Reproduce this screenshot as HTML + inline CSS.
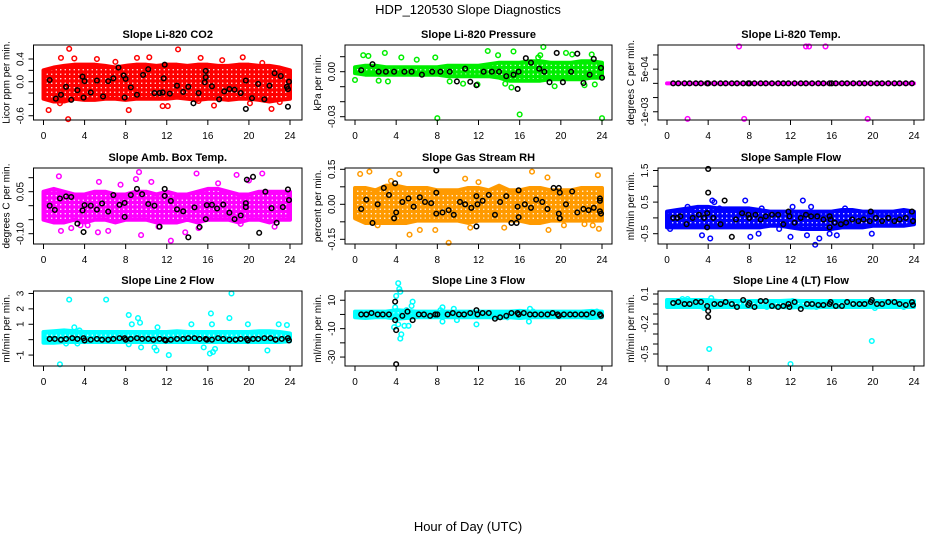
<!DOCTYPE html>
<html><head><meta charset="utf-8"><style>
html,body{margin:0;padding:0;background:#fff;}
svg{display:block;font-family:"Liberation Sans",Arial,sans-serif;}
</style></head><body>
<svg id="chart" width="936" height="540" viewBox="0 0 936 540">
<defs id="defs"></defs>
<text x="468" y="14" text-anchor="middle" font-size="13">HDP_120530  Slope Diagnostics</text>
<text x="468" y="531" text-anchor="middle" font-size="13">Hour of Day (UTC)</text>
</svg>
<script>
// shared band hours
const bandHours = [0,1,2,3,4,5,6,7,8,9,10,11,12,13,14,15,16,17,18,19,20,21,22,23,24];
const xTicks = [0,4,8,12,16,20,24];

// Panel 1: CO2
const co2BandHi = [0.2,0.25,0.28,0.3,0.3,0.3,0.28,0.25,0.28,0.3,0.3,0.28,0.3,0.3,0.28,0.3,0.3,0.28,0.28,0.3,0.3,0.28,0.28,0.25,0.2];
const co2BandLo = [-0.3,-0.35,-0.35,-0.3,-0.32,-0.32,-0.3,-0.3,-0.32,-0.3,-0.3,-0.3,-0.3,-0.28,-0.3,-0.32,-0.3,-0.3,-0.32,-0.3,-0.3,-0.32,-0.35,-0.32,-0.3];
const co2OutX = [2.5,2.4,0.5,13.1,8.3,22.2,11.6,12.1,16.6,1.7,3.0,5.2,9.1,10.3,15.3,19.4,17.4,21.3,1.6,15.1,4.0,7.0,20.1,23.0];
const co2OutY = [0.58,-0.66,-0.5,0.57,-0.5,-0.48,-0.43,-0.43,-0.42,0.42,0.41,0.4,0.42,0.43,0.42,0.43,0.38,0.33,-0.38,-0.34,-0.29,0.35,-0.38,-0.36];
const co2BlkX = [0.6,1.2,1.7,2.2,2.7,3.3,3.8,3.9,4.0,4.6,5.2,5.8,6.3,6.8,7.3,7.8,7.9,8.0,8.5,9.1,9.7,10.2,10.8,11.3,11.6,11.7,11.8,12.3,13.0,13.6,14.1,14.6,15.1,15.7,15.8,15.8,16.4,17.1,17.6,18.1,18.6,19.2,19.7,19.7,20.3,20.9,21.5,22.0,22.5,23.1,23.7,23.8,23.8,23.9];
const co2BlkY = [0.03,-0.3,-0.23,-0.09,-0.32,-0.15,0.09,-0.28,0.01,-0.19,0.02,-0.26,0.01,0.06,0.25,0.11,-0.28,0.05,-0.1,-0.23,0.12,0.22,-0.2,-0.2,-0.19,0.06,0.3,-0.21,-0.07,-0.18,-0.09,-0.38,-0.2,-0.01,0.08,0.19,-0.08,-0.31,-0.17,-0.13,-0.14,-0.2,0.02,-0.48,-0.29,-0.04,-0.31,-0.07,0.15,0.1,-0.09,-0.13,-0.44,0.0];

// Panel 2: Pressure
const prBandHi = [0.003,0.004,0.004,0.003,0.003,0.003,0.003,0.003,0.003,0.004,0.004,0.004,0.004,0.005,0.006,0.006,0.006,0.007,0.007,0.006,0.006,0.006,0.007,0.007,0.006];
const prBandLo = [-0.001,-0.002,-0.002,-0.002,-0.002,-0.002,-0.002,-0.002,-0.002,-0.003,-0.003,-0.003,-0.003,-0.003,-0.004,-0.006,-0.006,-0.006,-0.006,-0.005,-0.005,-0.005,-0.005,-0.004,-0.004];
const prOutX = [0,0.8,1.3,2.9,3.2,4.5,7.8,8,12.9,13.9,15.2,15.4,16.0,18.3,19.4,20.5,21.1,23.0,23.3,24,11.9,9.2,17.8,10.5,14.6,6.0,2.3,22.3,18.0];
const prOutY = [-0.0055,0.011,0.0105,0.0125,-0.0065,0.0095,0.0095,-0.031,0.0138,0.011,-0.0105,0.0135,-0.0285,0.0165,-0.0097,0.0125,0.0115,0.0115,-0.0085,-0.031,-0.0085,-0.0065,0.0095,-0.008,-0.008,0.008,-0.006,-0.009,0.011];
const prBlkX = [0.6,1.7,2.3,3,3.8,4.8,5.5,6.5,7.5,8.3,9.2,9.9,10.7,11.2,11.8,12.5,13.3,14,14.7,15.4,15.8,15.9,16.6,17.1,17.9,18.4,18.9,19.6,20.2,21,21.6,22.2,22.8,23.2,23.9,24];
const prBlkY = [0.001,0.005,0,0,0,0,0,-0.002,0,0,0,-0.0065,0.002,-0.0067,-0.009,0,0,0,-0.003,-0.002,-0.0115,0,0.009,0.006,0.002,0,-0.007,0.0125,-0.007,0,0.012,-0.0075,-0.002,0.0085,0.0025,-0.004];

// Panel 3: Li-820 Temp
const tpBandHi = [0,0,0,0,0,0,0,0,0,0,0,0,0,0,0,0,0,0,0,0,0,0,0,0,0];
const tpBandLo = [0,0,0,0,0,0,0,0,0,0,0,0,0,0,0,0,0,0,0,0,0,0,0,0,0];
const tpOutX = [7,13.5,13.8,15.4,2,7.5,19.5];
const tpOutY = [0.0013,0.0013,0.0013,0.0013,-0.00125,-0.00125,-0.00125];
const tpBlkX = [0.6,1.1,1.7,2.2,2.8,3.3,3.9,4.0,4.6,5.2,5.7,6.3,6.8,7.4,7.9,8.0,8.5,9.1,9.6,10.2,10.8,11.3,11.8,12.4,13.0,13.5,14.1,14.7,15.2,15.8,16.0,16.4,17.0,17.5,18.1,18.7,19.2,19.8,20.4,20.9,21.5,22.1,22.6,23.2,23.8];
const tpBlkY = [0,0,0,0,0,0,0,0,0,0,0,0,0,0,0,0,0,0,0,0,0,0,0,0,0,0,0,0,0,0,0,0,0,0,0,0,0,0,0,0,0,0,0,0,0];

// Panel 4: Amb Box Temp
const abBandHi = [0.05,0.06,0.05,0.04,0.04,0.05,0.05,0.04,0.04,0.05,0.05,0.04,0.05,0.04,0.04,0.05,0.06,0.06,0.05,0.04,0.04,0.05,0.05,0.05,0.05];
const abBandLo = [-0.05,-0.06,-0.06,-0.05,-0.06,-0.05,-0.05,-0.06,-0.05,-0.05,-0.05,-0.06,-0.06,-0.06,-0.05,-0.06,-0.05,-0.05,-0.05,-0.06,-0.05,-0.05,-0.06,-0.05,-0.05];
const abOutX = [1.5,9.3,9.0,14.9,18.8,21.3,5.4,1.7,5.3,9.5,12.4,13.8,15.1,19.2,11.2,2.7,6.3,22.5,4.3,10.5,17.0,20.0,7.5,3.6];
const abOutY = [0.105,0.12,0.095,0.115,0.11,0.115,0.085,-0.09,-0.095,-0.105,-0.125,-0.095,-0.08,-0.065,-0.075,-0.08,-0.09,-0.075,-0.07,0.085,0.08,0.09,0.075,-0.07];
const abBlkX = [0.6,1.1,1.6,2.2,2.7,3.3,3.9,3.8,4.0,4.6,5.2,5.7,6.3,6.8,7.4,7.9,7.9,8.5,9.1,9.6,10.2,10.8,11.3,11.8,11.8,12.4,13.0,13.6,14.1,14.7,15.2,15.8,15.9,16.4,16.9,17.5,18.1,18.6,19.2,19.7,19.7,19.8,20.4,21.0,21.6,22.2,22.7,23.3,23.8,23.9];
const abBlkY = [0.0,-0.015,0.026,0.033,0.031,-0.064,-0.094,-0.017,0.002,0.0,-0.014,0.008,-0.021,0.038,0.003,0.01,-0.04,0.038,0.06,0.041,0.006,0.0,-0.075,0.035,0.06,0.017,-0.013,-0.02,-0.113,-0.006,-0.076,-0.048,0.002,0.003,-0.01,0.004,-0.025,-0.048,-0.035,0.009,-0.005,0.093,0.103,-0.097,0.05,-0.009,-0.061,-0.005,0.058,0.02];

// Panel 5: Gas Stream RH
const rhBandHi = [0.07,0.07,0.06,0.08,0.08,0.07,0.07,0.07,0.06,0.06,0.06,0.07,0.07,0.06,0.08,0.06,0.06,0.07,0.07,0.06,0.06,0.06,0.07,0.07,0.07];
const rhBandLo = [-0.06,-0.08,-0.08,-0.08,-0.08,-0.08,-0.07,-0.07,-0.07,-0.07,-0.07,-0.08,-0.07,-0.07,-0.07,-0.07,-0.07,-0.08,-0.08,-0.07,-0.07,-0.07,-0.07,-0.07,-0.07];
const rhOutX = [0.5,1.4,4.3,10.7,17.2,18.7,23.6,5.3,6.3,7.8,9.1,18.8,23.7,11.2,22.3,23.1,14.5,2.2,3.5,12.0,20.3];
const rhOutY = [0.13,0.14,0.13,0.11,0.14,0.115,0.125,-0.13,-0.11,-0.11,-0.165,-0.11,-0.105,-0.1,-0.085,-0.09,-0.1,-0.09,0.1,0.095,-0.09];
const rhBlkX = [0.6,1.1,1.7,2.2,2.8,3.3,3.8,3.9,4.0,4.6,5.2,5.7,6.3,6.8,7.4,7.9,7.9,7.9,8.5,9.1,9.6,10.2,10.7,11.3,11.8,11.8,11.9,12.4,13.0,13.6,14.1,14.7,15.2,15.7,15.8,15.9,15.9,16.5,17.1,17.6,18.2,18.7,19.3,19.8,19.8,19.9,19.9,20.5,21.1,21.6,22.2,22.7,23.2,23.8,23.8,23.9,23.8];
const rhBlkY = [-0.02,0.02,-0.08,0.0,0.07,0.04,-0.06,0.09,-0.035,0.01,0.025,-0.01,0.03,0.01,0.005,0.05,-0.04,0.145,-0.035,-0.025,-0.045,0.01,0.0,-0.015,0.035,-0.095,0.0,0.015,0.04,-0.045,0.01,0.035,-0.08,-0.08,-0.01,-0.055,0.06,0.0,-0.015,0.02,0.01,-0.02,0.07,-0.04,0.07,0.05,-0.06,0.0,0.055,-0.035,-0.02,-0.025,-0.015,0.015,-0.03,-0.04,0.025];

// Panel 6: Sample Flow
const sfBandHi = [0.2,0.25,0.3,0.35,0.35,0.3,0.3,0.3,0.3,0.25,0.2,0.2,0.2,0.2,0.2,0.2,0.2,0.25,0.25,0.2,0.2,0.2,0.2,0.25,0.2];
const sfBandLo = [-0.3,-0.3,-0.3,-0.3,-0.3,-0.3,-0.3,-0.3,-0.3,-0.3,-0.25,-0.25,-0.3,-0.35,-0.35,-0.35,-0.35,-0.3,-0.3,-0.3,-0.25,-0.25,-0.25,-0.25,-0.2];
const sfOutX = [2.0,3.4,4.2,4.4,4.6,7.6,8.1,8.9,12.0,12.2,13.2,13.6,14.4,14.8,15.8,16.5,19.9,14.0,9.2,0.3,5.1,10.9,17.3];
const sfOutY = [0.35,-0.55,-0.65,0.55,0.5,0.55,-0.6,-0.5,-0.6,0.35,0.55,-0.55,-0.85,-0.65,-0.5,-0.55,-0.5,0.35,0.3,-0.35,0.3,-0.35,0.3];
const sfBlkX = [0.6,1.0,1.3,1.9,2.5,3.1,3.6,3.9,3.9,4.0,4.0,4.5,5.2,5.6,6.3,6.7,7.3,7.9,8.0,8.6,9.1,9.6,10.2,10.8,11.3,11.8,11.9,12.4,13.0,13.5,14.0,14.6,15.2,15.8,15.8,15.9,16.3,16.9,17.4,18.0,18.6,19.1,19.7,19.8,20.3,20.9,21.5,22.1,22.6,23.2,23.8,23.9];
const sfBlkY = [0.0,0.0,0.05,-0.2,0.0,0.1,0.0,0.15,-0.3,1.55,0.8,0.0,-0.2,0.55,-0.6,-0.05,0.15,0.1,0.0,0.1,-0.05,0.05,0.1,0.1,-0.2,0.2,0.05,-0.15,0.0,0.1,0.05,0.05,-0.05,-0.3,0.05,-0.05,-0.15,-0.2,-0.15,-0.05,-0.1,-0.05,-0.1,0.2,0.0,-0.1,0.0,-0.1,-0.05,0.0,0.2,-0.1];

// Panel 7: Line 2 Flow
const l2BandHi = [0.5,0.55,0.6,0.55,0.5,0.5,0.5,0.5,0.5,0.5,0.5,0.5,0.5,0.55,0.5,0.5,0.5,0.5,0.5,0.5,0.5,0.55,0.55,0.5,0.4];
const l2BandLo = [-0.2,-0.2,-0.15,-0.15,-0.15,-0.15,-0.15,-0.15,-0.15,-0.15,-0.15,-0.15,-0.15,-0.15,-0.15,-0.15,-0.15,-0.15,-0.15,-0.15,-0.15,-0.15,-0.15,-0.15,-0.1];
const l2OutX = [1.6,2.5,3.0,3.5,6.1,8.3,8.6,9.2,9.4,8.3,9.5,10.8,11.0,11.1,12.2,14.4,15.6,16.3,16.4,16.7,16.2,16.5,18.1,18.3,19.9,21.8,22.9,23.7,1.8,2.2,3.3];
const l2OutY = [-1.6,2.6,0.8,0.6,2.6,1.6,1.0,1.4,1.1,-0.3,-0.5,-0.5,-0.7,0.8,-1.0,1.0,-0.5,1.7,1.0,-0.6,-0.9,-0.8,1.4,3.0,1.0,-0.7,1.0,0.95,0.5,-0.25,-0.25];
const l2BlkX = [0.6,1.1,1.7,2.2,2.8,3.3,3.9,4.0,4.6,5.2,5.7,6.3,6.8,7.4,7.9,8.0,8.5,9.1,9.6,10.2,10.7,11.3,11.8,11.9,12.4,13.0,13.6,14.1,14.7,15.2,15.8,15.9,16.4,17.0,17.5,18.1,18.7,19.2,19.8,19.9,20.4,20.9,21.5,22.1,22.6,23.2,23.8,23.9];
const l2BlkY = [0.05,0.05,0.0,0.05,0.1,0.05,0.1,-0.05,0.0,0.05,0.0,0.0,0.05,0.1,0.1,0.0,0.05,0.1,0.05,0.05,0.0,0.05,0.0,-0.05,0.0,0.05,0.05,0.1,0.1,0.05,0.05,0.0,0.0,0.1,0.05,0.0,0.0,0.05,0.05,-0.05,0.05,0.05,0.1,0.1,0.0,0.05,0.1,-0.05];

// Panel 8: Line 3 Flow
const l3BandHi = [2,2,2,2,3,2.5,2,2,2,2,2,2,2,2,2,2,2.5,2,2,2,2,2,2,2.5,2];
const l3BandLo = [-2,-2.5,-2,-2,-3,-2.5,-2,-2,-2,-2,-2,-2,-2,-2,-2.5,-2,-2.5,-2,-2,-2,-2,-2,-2,-2.5,-2];
const l3OutX = [4.0,4.2,4.3,4.4,3.9,3.8,4.2,4.4,4.5,4.8,5.2,5.0,5.5,5.6,6.5,8.3,8.5,9.6,8.5,9.9,11.8,14.8,17.0,16.9,17.3,23.5];
const l3OutY = [13,22,18,16,5,-9,-7,-17,-14,-8,-8,3,6,9,1,3,5,4,-5,-4,-7,-2,4,-5,2,2];
const l3BlkX = [0.6,1.1,1.6,2.2,2.7,3.3,3.9,3.9,4.0,4.0,4.6,5.1,5.6,6.2,6.7,7.3,7.8,8.0,9.0,9.5,10.1,10.6,11.2,11.8,11.9,12.4,13.0,13.6,14.1,14.7,15.2,15.8,15.9,16.4,17.0,17.5,18.1,18.7,19.2,19.7,19.8,20.3,20.9,21.4,22.0,22.5,23.1,23.8,23.9];
const l3BlkY = [0,0,1,0,0,0,9,-4,-11,-35,-1,2,-4,0,0,-1,0,0,0,1,0,0,1,3,0,1,1,-3,-2,-1,1,1,0,1,0,0,0,0,1,0,-1,0,0,0,0,0,1,0,-1];

// Panel 9: Line 4 (LT) Flow
const l4BandHi = [0.04,0.04,0.04,0.04,0.04,0.03,0.03,0.03,0.03,0.03,0.03,0.03,0.035,0.03,0.03,0.03,0.03,0.03,0.03,0.03,0.03,0.03,0.03,0.03,0.03];
const l4BandLo = [-0.03,-0.03,-0.03,-0.03,-0.035,-0.03,-0.03,-0.03,-0.03,-0.03,-0.03,-0.03,-0.035,-0.03,-0.035,-0.03,-0.03,-0.03,-0.03,-0.03,-0.03,-0.03,-0.03,-0.03,-0.03];
const l4OutX = [4.1,12.0,19.9,4.3,1.5,2.0,12.2,9.7,14.5,20.2,3.6,23.0];
const l4OutY = [-0.45,-0.6,-0.37,0.06,0.05,0.05,0.03,-0.03,-0.03,-0.04,-0.04,-0.03];
const l4BlkX = [0.6,1.1,1.7,2.2,2.8,3.3,3.9,4.0,4.0,4.6,5.2,5.7,6.3,6.8,7.4,7.9,8.0,8.5,9.1,9.6,10.2,10.8,11.3,11.8,11.9,12.4,13.0,13.6,14.1,14.7,15.2,15.8,15.9,16.4,17.0,17.5,18.1,18.7,19.2,19.8,19.9,20.4,20.9,21.5,22.1,22.6,23.2,23.8,23.9];
const l4BlkY = [0.01,0.02,0.0,0.0,0.02,0.02,-0.02,-0.07,-0.13,0.0,0.0,0.02,0.0,-0.03,0.04,-0.01,0.01,-0.03,0.03,0.03,-0.02,-0.03,-0.02,0.0,-0.03,0.02,-0.05,0.0,0.0,-0.01,-0.01,0.0,0.02,-0.02,-0.02,0.02,0.0,0.0,0.0,0.02,0.04,0.0,0.0,0.02,0.02,0.0,-0.01,0.02,-0.01];

// y tick values and labels per panel
const co2Ticks = [-0.6,-0.4,-0.2,0,0.2,0.4];
const co2TickLabels = ["-0.6","","","0.0","","0.4"];
const prTicks = [-0.03,-0.02,-0.01,0,0.01];
const prTickLabels = ["-0.03","","","0.00",""];
const tpTicks = [-0.001,-0.0005,0,0.0005,0.001];
const tpTickLabels = ["-1e-03","","","5e-04",""];
const abTicks = [-0.1,-0.05,0,0.05,0.1];
const abTickLabels = ["-0.10","","","0.05",""];
const rhTicks = [-0.15,-0.075,0,0.075,0.15];
const rhTickLabels = ["-0.15","","0.00","","0.15"];
const sfTicks = [-0.5,0,0.5,1,1.5];
const sfTickLabels = ["-0.5","","0.5","","1.5"];
const l2Ticks = [-1,0,1,2,3];
const l2TickLabels = ["-1","","1","2","3"];
const l3Ticks = [-30,-20,-10,0,10];
const l3TickLabels = ["-30","","-10","","10"];
const l4Ticks = [-0.5,-0.4,-0.3,-0.2,-0.1,0,0.1];
const l4TickLabels = ["-0.5","","","-0.2","","","0.1"];

const NS = "http://www.w3.org/2000/svg";
const svg = document.getElementById('chart');
const defs = document.getElementById('defs');
function mk(tag, attrs, parent){
  const e = document.createElementNS(NS, tag);
  for (const k in attrs) e.setAttribute(k, attrs[k]);
  (parent||svg).appendChild(e);
  return e;
}
const cols = [{l:33.5,r:302,x0:43.5,x1:290},{l:345,r:612,x0:355,x1:602},{l:658,r:924,x0:667,x1:914}];
const rows = [{t:45,b:120},{t:168,b:244},{t:291,b:366}];
let pid = 0;

function panel(cfg){
  const c = cols[cfg.col], r = rows[cfg.row];
  const g = mk('g', {});
  
  
  const xs = h => c.x0 + (c.x1 - c.x0) * h / 24;
  const ys = v => r.b - (v - cfg.yMin) / (cfg.yMax - cfg.yMin) * (r.b - r.t);
  // texture pattern of rings for dense cloud
  pid++;
  const pat = mk('pattern', {id:'p'+pid, patternUnits:'userSpaceOnUse', width:4.5, height:4.5}, defs);
  mk('rect', {x:0,y:0,width:4.5,height:4.5,fill:cfg.color}, pat);
  mk('circle', {cx:2.25, cy:2.25, r:0.7, fill:'#fff'}, pat);
  let pts = [];
  for (let i=0;i<bandHours.length;i++) pts.push(xs(bandHours[i])+','+ys(cfg.hi[i]));
  for (let i=bandHours.length-1;i>=0;i--) pts.push(xs(bandHours[i])+','+ys(cfg.lo[i]));
  const band = mk('polygon', {points: pts.join(' '), fill: 'url(#p'+pid+')', stroke: cfg.color, 'stroke-width': 4, 'stroke-linejoin':'round'}, g);
  
  
  // outliers
  for (let i=0;i<cfg.ox.length;i++){
    const p = mk('circle', {cx: xs(cfg.ox[i]), cy: ys(cfg.oy[i]), r: 2.3, fill:'none', stroke: cfg.color, 'stroke-width':1.5}, g);
    
    
  }
  // black points
  for (let i=0;i<cfg.bx.length;i++){
    const p = mk('circle', {cx: xs(cfg.bx[i]), cy: ys(cfg.by[i]), r: 2.3, fill:'none', stroke: '#000', 'stroke-width':1.5}, g);
    
    
  }
  // box
  const box = mk('rect', {x:c.l, y:r.t, width:c.r-c.l, height:r.b-r.t, fill:'none', stroke:'#000', 'stroke-width':1}, g);
  
  
  // x ticks
  for (const h of xTicks){
    const x = xs(h);
    mk('line', {x1:x, x2:x, y1:r.b, y2:r.b+5, stroke:'#000'}, g);
    const t = mk('text', {x:x, y:r.b+19, 'text-anchor':'middle', 'font-size':10}, g);
    t.textContent = h;
    
    
  }
  // y ticks
  for (let i=0;i<cfg.ticks.length;i++){
    const y = ys(cfg.ticks[i]);
    mk('line', {x1:c.l-5, x2:c.l, y1:y, y2:y, stroke:'#000'}, g);
    if (cfg.tl[i]){
      const lx = c.l - 10;
      const t = mk('text', {x:lx, y:y, 'text-anchor':'middle', 'font-size':10, transform:'rotate(-90 '+lx+' '+y+')'}, g);
      t.textContent = cfg.tl[i];
      
      
    }
  }
  // titles
  const tt = mk('text', {x:(c.l+c.r)/2, y:r.t-7, 'text-anchor':'middle', 'font-size':11, 'font-weight':'bold'}, g);
  tt.textContent = cfg.title;
  
  
  const ax = c.l - 24, ay = (r.t + r.b)/2;
  const yt = mk('text', {x:ax, y:ay, 'text-anchor':'middle', 'font-size':10, transform:'rotate(-90 '+ax+' '+ay+')'}, g);
  yt.textContent = cfg.ylab;
  
  
}

panel({name:'panel-co2', col:0,row:0,title:'Slope Li-820 CO2',ylab:'Licor ppm per min.',color:'#ff0000',yMin:-0.675,yMax:0.647,ticks:co2Ticks,tl:co2TickLabels,hi:co2BandHi,lo:co2BandLo,ox:co2OutX,oy:co2OutY,bx:co2BlkX,by:co2BlkY});
panel({name:'panel-pressure', col:1,row:0,title:'Slope Li-820 Pressure',ylab:'kPa per min.',color:'#00ee00',yMin:-0.0322,yMax:0.0178,ticks:prTicks,tl:prTickLabels,hi:prBandHi,lo:prBandLo,ox:prOutX,oy:prOutY,bx:prBlkX,by:prBlkY});
panel({name:'panel-li820-temp', col:2,row:0,title:'Slope Li-820 Temp.',ylab:'degrees C per min.',color:'#ff00ff',yMin:-0.00129,yMax:0.00135,ticks:tpTicks,tl:tpTickLabels,hi:tpBandHi,lo:tpBandLo,ox:tpOutX,oy:tpOutY,bx:tpBlkX,by:tpBlkY});
panel({name:'panel-amb-box-temp', col:0,row:1,title:'Slope Amb. Box Temp.',ylab:'degrees C per min.',color:'#ff00ff',yMin:-0.1368,yMax:0.1346,ticks:abTicks,tl:abTickLabels,hi:abBandHi,lo:abBandLo,ox:abOutX,oy:abOutY,bx:abBlkX,by:abBlkY});
panel({name:'panel-gas-stream-rh', col:1,row:1,title:'Slope Gas Stream RH',ylab:'percent per min.',color:'#ff9a00',yMin:-0.1701,yMax:0.1556,ticks:rhTicks,tl:rhTickLabels,hi:rhBandHi,lo:rhBandLo,ox:rhOutX,oy:rhOutY,bx:rhBlkX,by:rhBlkY});
panel({name:'panel-sample-flow', col:2,row:1,title:'Slope Sample Flow',ylab:'ml/min per min.',color:'#0000ff',yMin:-0.826,yMax:1.579,ticks:sfTicks,tl:sfTickLabels,hi:sfBandHi,lo:sfBandLo,ox:sfOutX,oy:sfOutY,bx:sfBlkX,by:sfBlkY});
panel({name:'panel-line2-flow', col:0,row:2,title:'Slope Line 2 Flow',ylab:'ml/min per min.',color:'#00ffff',yMin:-1.71,yMax:3.16,ticks:l2Ticks,tl:l2TickLabels,hi:l2BandHi,lo:l2BandLo,ox:l2OutX,oy:l2OutY,bx:l2BlkX,by:l2BlkY});
panel({name:'panel-line3-flow', col:1,row:2,title:'Slope Line 3 Flow',ylab:'ml/min per min.',color:'#00ffff',yMin:-36.3,yMax:16.5,ticks:l3Ticks,tl:l3TickLabels,hi:l3BandHi,lo:l3BandLo,ox:l3OutX,oy:l3OutY,bx:l3BlkX,by:l3BlkY});
panel({name:'panel-line4-flow', col:2,row:2,title:'Slope Line 4 (LT) Flow',ylab:'ml/min per min.',color:'#00ffff',yMin:-0.62,yMax:0.13,ticks:l4Ticks,tl:l4TickLabels,hi:l4BandHi,lo:l4BandLo,ox:l4OutX,oy:l4OutY,bx:l4BlkX,by:l4BlkY});
</script>
</body></html>
